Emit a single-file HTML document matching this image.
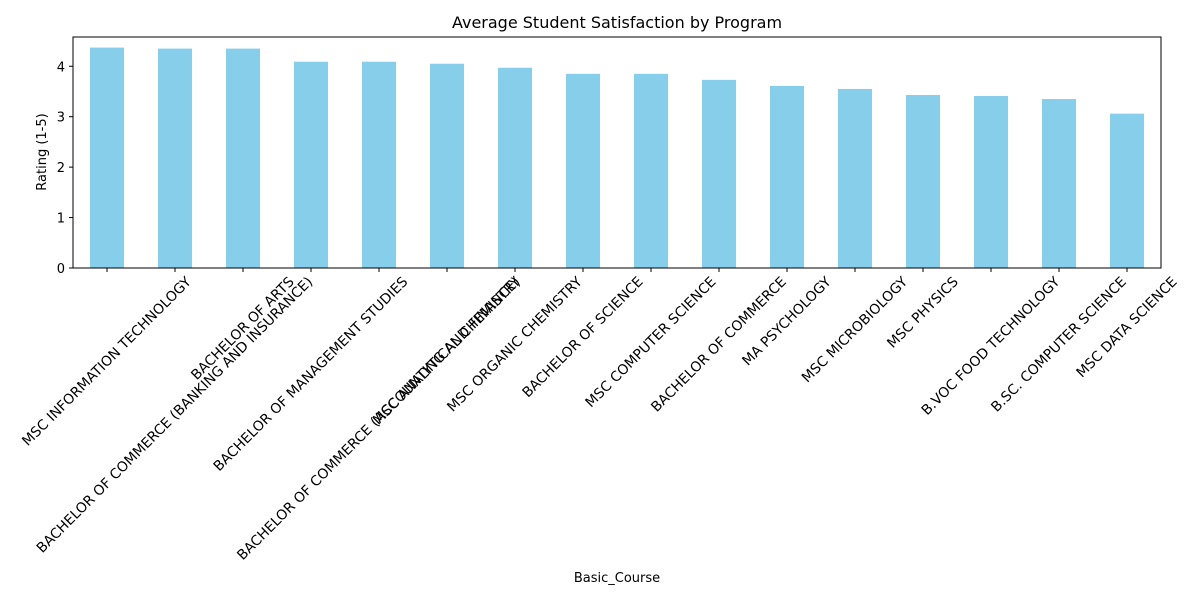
<!DOCTYPE html>
<html><head><meta charset="utf-8"><style>
body{margin:0;background:#fff}
svg{font-family:"DejaVu Sans","Liberation Sans",sans-serif}
</style></head><body>
<svg id="chart" width="1200" height="600" xmlns="http://www.w3.org/2000/svg">
<rect width="1200" height="600" fill="#fff"/>
<text x="617" y="28" font-size="16" text-anchor="middle">Average Student Satisfaction by Program</text>
<text transform="translate(46,152) rotate(-90)" font-size="13" text-anchor="middle">Rating (1-5)</text>
<text x="617" y="582" font-size="13" text-anchor="middle">Basic_Course</text>
<g id="plot"></g>
</svg>
<script>
const categories=["MSC INFORMATION TECHNOLOGY","BACHELOR OF COMMERCE (BANKING AND INSURANCE)","BACHELOR OF ARTS","BACHELOR OF MANAGEMENT STUDIES","BACHELOR OF COMMERCE (ACCOUNTING AND FINANCE)","MSC ANALYTICAL CHEMISTRY","MSC ORGANIC CHEMISTRY","BACHELOR OF SCIENCE","MSC COMPUTER SCIENCE","BACHELOR OF COMMERCE","MA PSYCHOLOGY","MSC MICROBIOLOGY","MSC PHYSICS","B.VOC FOOD TECHNOLOGY","B.SC. COMPUTER SCIENCE","MSC DATA SCIENCE"];
const ratings=[4.37,4.35,4.35,4.09,4.09,4.05,3.97,3.85,3.85,3.73,3.61,3.55,3.43,3.41,3.35,3.06];
const yTicks=[0,1,2,3,4];
const L=73,R=1161,T=37,B=268,yMax=4.58;
const NS="http://www.w3.org/2000/svg";
const g=document.getElementById('plot');
const step=(R-L)/categories.length;
const xC=i=>L+step*(i+0.5);
const yS=v=>B-(v/yMax)*(B-T);
function mk(t,a){const e=document.createElementNS(NS,t);for(const k in a)e.setAttribute(k,a[k]);g.appendChild(e);return e;}
ratings.forEach((v,i)=>{
 const r=mk('rect',{x:xC(i)-step/4,y:yS(v),width:step/2,height:B-yS(v),fill:'#87ceeb'});
 
 
});
yTicks.forEach(t=>{
 const l=mk('line',{x1:L-4,x2:L,y1:yS(t),y2:yS(t),stroke:'#000'});
 
 
 const tx=mk('text',{x:L-8,y:yS(t)+5,'font-size':13,'text-anchor':'end'});
 tx.textContent=t;
 
 
});
categories.forEach((c,i)=>{
 const x=xC(i);
 const l=mk('line',{x1:x,x2:x,y1:B,y2:B+4,stroke:'#000'});
 
 
 const tx=mk('text',{'font-size':13.9,'text-anchor':'middle','dominant-baseline':'central'});
 tx.textContent=c;
 
 
 const len=tx.getComputedTextLength(),h=16;
 const half=(len+h)/(2*Math.SQRT2);
 tx.setAttribute('transform','translate('+x+','+(B+6+half)+') rotate(-45)');
});
const fr=mk('rect',{x:L,y:T,width:R-L,height:B-T,fill:'none',stroke:'#000','stroke-width':1});


</script>
</body></html>
